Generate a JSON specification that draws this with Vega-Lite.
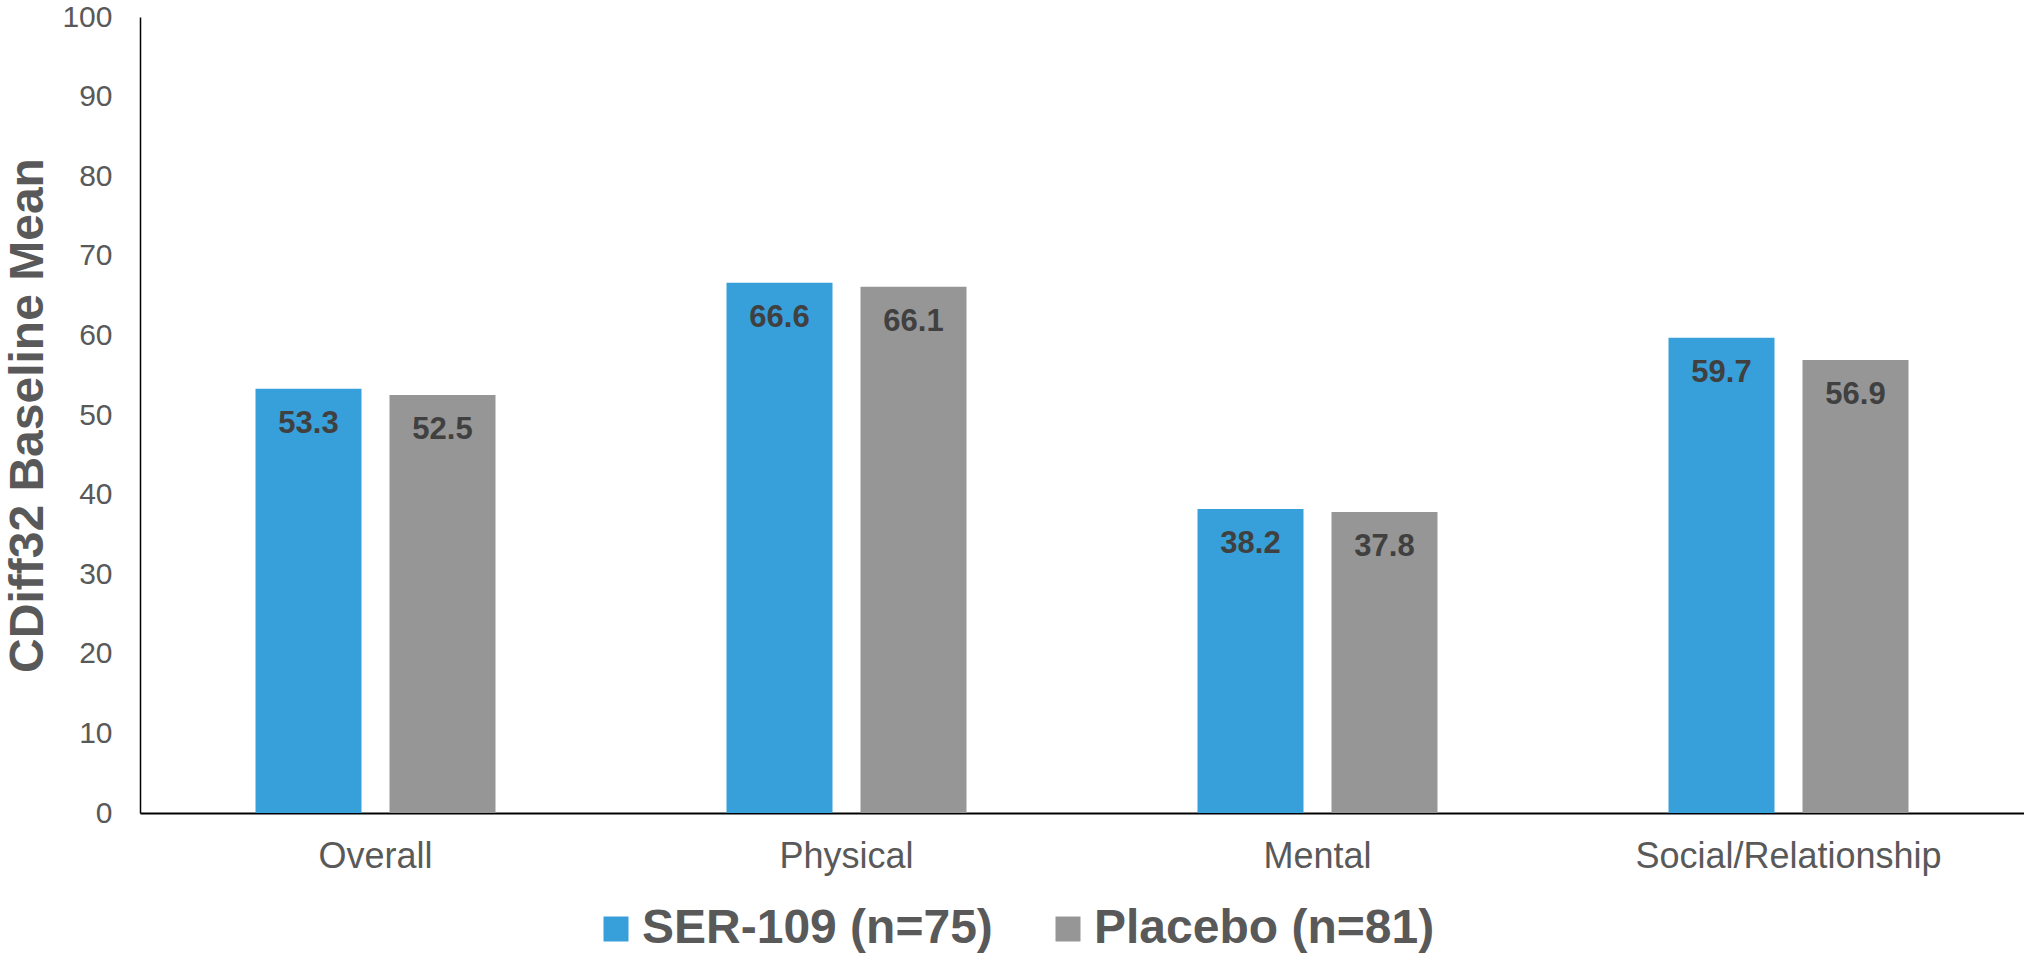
{
  "$schema": "https://vega.github.io/schema/vega-lite/v6.json",
  "width": 1884,
  "height": 796,
  "autosize": "none",
  "padding": {"left": 140, "top": 17, "right": 0, "bottom": 146},
  "background": "white",
  "config": {
    "view": {"stroke": null},
    "font": "Liberation Sans"
  },
  "data": {
    "values": [
      {"domain": "Overall", "arm": "SER-109 (n=75)", "mean": 53.3},
      {"domain": "Overall", "arm": "Placebo (n=81)", "mean": 52.5},
      {"domain": "Physical", "arm": "SER-109 (n=75)", "mean": 66.6},
      {"domain": "Physical", "arm": "Placebo (n=81)", "mean": 66.1},
      {"domain": "Mental", "arm": "SER-109 (n=75)", "mean": 38.2},
      {"domain": "Mental", "arm": "Placebo (n=81)", "mean": 37.8},
      {"domain": "Social/Relationship", "arm": "SER-109 (n=75)", "mean": 59.7},
      {"domain": "Social/Relationship", "arm": "Placebo (n=81)", "mean": 56.9}
    ]
  },
  "encoding": {
    "x": {
      "field": "domain",
      "type": "nominal",
      "sort": ["Overall", "Physical", "Mental", "Social/Relationship"],
      "scale": {"paddingInner": 0, "paddingOuter": 0},
      "axis": {
        "title": null,
        "labelAngle": 0,
        "labelFontSize": 36,
        "labelColor": "#595959",
        "ticks": false,
        "domainColor": "#000000",
        "domainWidth": 2,
        "labelPadding": 26,
        "labelLimit": 0
      }
    },
    "xOffset": {
      "field": "arm",
      "type": "nominal",
      "sort": ["SER-109 (n=75)", "Placebo (n=81)"],
      "scale": {"paddingInner": 0.209, "paddingOuter": 0.862}
    },
    "y": {
      "field": "mean",
      "type": "quantitative",
      "scale": {"domain": [0, 100], "nice": false},
      "axis": {
        "title": "CDiff32 Baseline Mean",
        "titleFontSize": 48,
        "titleFontWeight": "bold",
        "titleColor": "#595959",
        "titleAngle": -90,
        "titleAlign": "center",
        "titleBaseline": "middle",
        "titleX": -112,
        "titleY": 398,
        "values": [0, 10, 20, 30, 40, 50, 60, 70, 80, 90, 100],
        "grid": false,
        "ticks": false,
        "domainColor": "#000000",
        "domainWidth": 1.5,
        "labelFontSize": 30,
        "labelColor": "#595959",
        "labelPadding": 28
      }
    }
  },
  "layer": [
    {
      "mark": {"type": "bar"},
      "encoding": {
        "color": {
          "field": "arm",
          "type": "nominal",
          "sort": ["SER-109 (n=75)", "Placebo (n=81)"],
          "scale": {
            "domain": ["SER-109 (n=75)", "Placebo (n=81)"],
            "range": ["#379FD9", "#969696"]
          },
          "legend": {
            "orient": "none",
            "legendX": 452,
            "legendY": 888,
            "direction": "horizontal",
            "title": null,
            "symbolType": "square",
            "symbolSize": 625,
            "symbolStrokeWidth": 0,
            "labelFontSize": 48,
            "labelFontWeight": "bold",
            "labelColor": "#595959",
            "labelOffset": 2,
            "columnPadding": 51,
            "padding": 0,
            "labelLimit": 0
          }
        }
      }
    },
    {
      "mark": {
        "type": "text",
        "baseline": "alphabetic",
        "dy": 44,
        "fontSize": 31,
        "fontWeight": "bold",
        "color": "#404040"
      },
      "encoding": {
        "text": {"field": "mean", "type": "quantitative", "format": ".1f"}
      }
    }
  ]
}
